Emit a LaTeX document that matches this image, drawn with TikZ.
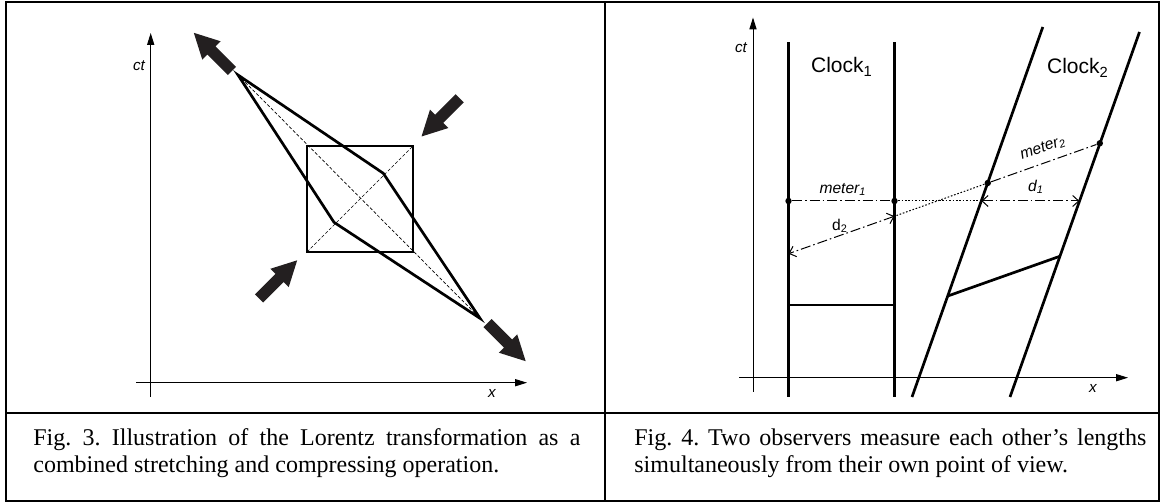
\documentclass[tikz,border=0pt]{standalone}
\usepackage{fontspec}
\setmainfont{Liberation Serif}
\newfontfamily\arialfont{Liberation Sans}
\usetikzlibrary{arrows.meta,calc}
\definecolor{ink}{HTML}{231F20}
\frenchspacing
\tikzset{
  frameline/.style={line width=1pt,black},
  axisline/.style={line width=0.5pt,-{Triangle[length=6pt,width=3.6pt]}},
  heavy/.style={line width=1.35pt},
  finedash/.style={line width=0.35pt,dash pattern=on 1.6pt off 1pt},
  dashdot/.style={line width=0.5pt,dash pattern=on 5pt off 1.5pt on 0.8pt off 1.5pt},
  dotline/.style={line width=0.5pt,dash pattern=on 0.8pt off 0.9pt},
  barbs/.style={{Straight Barb[length=3pt,width=5.5pt]}-{Straight Barb[length=3pt,width=5.5pt]}},
  dot/.style={circle,fill=black,inner sep=0pt,minimum size=3.2pt},
  smalllab/.style={font=\arialfont\itshape\fontsize{7.6}{9}\selectfont,inner sep=0pt},
  meterlab/.style={font=\arialfont\fontsize{7.8}{9}\selectfont,inner sep=0pt},
  clocklab/.style={font=\arialfont\fontsize{10.5}{12}\selectfont,inner sep=0pt},
  caption/.style={font=\fontsize{12}{14}\selectfont\frenchspacing,inner sep=0pt,anchor=base west},
  blockarrow/.pic={\fill[ink] (0,-5.75) -- (29,-5.75) -- (29,-13) -- (54,0) -- (29,13) -- (29,5.75) -- (0,5.75) -- cycle;}
}
\begin{document}
\begin{tikzpicture}[x=0.5pt,y=-0.5pt]
\useasboundingbox (0,0) rectangle (1163,502);
\fill[white] (0,0) rectangle (1163,502);
% table frame
\draw[frameline] (6,2.2) rectangle (1159,501);
\coordinate (vtop) at (605,2.2);
\coordinate (vbot) at (605,501);
\coordinate (hl) at (6,413);
\coordinate (hr) at (1159,413);
\draw[frameline] (vtop) -- (vbot);
\draw[frameline] (hl) -- (hr);

% ---------- left panel ----------
\coordinate (ay0) at (150.7,397);
\coordinate (ay1) at (150.7,33);
\coordinate (ax0) at (136,382.7);
\coordinate (ax1) at (527,382.7);
\draw[axisline] (ay0) -- (ay1);
\draw[axisline] (ax0) -- (ax1);
\node[smalllab] (lct) at (139,66) {ct};
\node[smalllab] (lx) at (492,393) {x};

\coordinate (sTL) at (307,146);
\coordinate (sTR) at (413,146);
\coordinate (sBR) at (413,252);
\coordinate (sBL) at (307,252);
\coordinate (rA) at (238,75);
\coordinate (rB) at (383.3,173.3);
\coordinate (rC) at (480,318.3);
\coordinate (rD) at (334,222.3);
\draw[finedash] (rA) -- (rC);
\draw[finedash] (sBL) -- (sTR);
\draw[heavy] (sTL) -- (sTR) -- (sBR) -- (sBL) -- cycle;
\draw[heavy] (rA) -- (rB) -- (rC) -- (rD) -- cycle;

\pic[rotate=135] at (232,71) {blockarrow};
\pic[rotate=-45] at (487.5,323) {blockarrow};
\pic[rotate=225] at (459.7,98.3) {blockarrow};
\pic[rotate=45] at (259,298.5) {blockarrow};

% ---------- right panel ----------
\coordinate (by0) at (753,392);
\coordinate (by1) at (753,17.5);
\coordinate (bx0) at (739,377.7);
\coordinate (bx1) at (1128,377.7);
\draw[axisline] (by0) -- (by1);
\draw[axisline] (bx0) -- (bx1);
\node[smalllab] (rct) at (741,48) {ct};
\node[smalllab] (rx) at (1093,388) {x};

% clock 1 world lines
\coordinate (c1lb) at (788.5,397);
\coordinate (c1lt) at (788.5,42);
\coordinate (c1rb) at (894.5,397);
\coordinate (c1rt) at (894.5,42);
\draw[heavy] (c1lb) -- (c1lt);
\draw[heavy] (c1rb) -- (c1rt);
% clock 2 world lines
\coordinate (c2lb) at (912,397);
\coordinate (c2lt) at (1042.8,27);
\coordinate (c2rb) at (1010,397);
\coordinate (c2rt) at (1139.5,32);
\draw[heavy] (c2lb) -- (c2lt);
\draw[heavy] (c2rb) -- (c2rt);

% clock rungs
\coordinate (k1a) at (788.5,305);
\coordinate (k1b) at (894.5,305);
\draw[heavy] (k1a) -- (k1b);
\coordinate (k2a) at (947.8,296);
\coordinate (k2b) at (1059.8,256.3);
\draw[heavy] (k2a) -- (k2b);

% measurement points
\node[dot] (p1) at (788.5,201) {};
\node[dot] (p2) at (894.5,201) {};
\coordinate (q) at (981.4,201);
\coordinate (r) at (1079.4,201);
\node[dot] (m2a) at (987.8,183) {};
\node[dot] (m2b) at (1099.8,143.3) {};
\coordinate (s) at (894.5,216.2);
\coordinate (t) at (788.5,253.7);

\draw[dashdot] (p1) -- (p2);
\draw[dotline] (p2) -- (q);
\draw[dashdot,barbs] (q) -- (r);
\draw[dashdot] (m2a) -- (m2b);
\draw[dotline] (m2a) -- (s);
\draw[dashdot,barbs] (s) -- (t);

\node[clocklab] (clk1) at (842,67) {Clock\textsubscript{1}};
\node[clocklab] (clk2) at (1078,68) {Clock\textsubscript{2}};
\node[meterlab] (met1) at (843,189) {\itshape meter\textsubscript{1}};
\node[meterlab] (dd1) at (1036,187) {\itshape d\textsubscript{1}};
\node[meterlab,rotate=19.5] (met2) at (1043,148) {\itshape meter\textsubscript{2}};
\node[meterlab] (dd2) at (840,226) {d\textsubscript{2}};

% ---------- captions ----------
\node[caption] (cap3a) at (33,445) {\hbox to 273.5pt{Fig. 3. Illustration of the Lorentz transformation as a}};
\node[caption] (cap3b) at (33,473) {combined stretching and compressing operation.};
\node[caption] (cap4a) at (634,445) {\hbox to 256pt{Fig. 4. Two observers measure each other’s lengths}};
\node[caption] (cap4b) at (634,473) {simultaneously from their own point of view.};
\end{tikzpicture}
\end{document}
